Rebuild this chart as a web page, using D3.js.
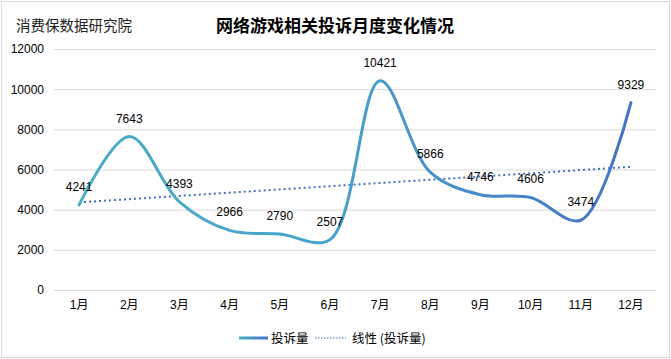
<!DOCTYPE html>
<html>
<head>
<meta charset="utf-8">
<script src="https://cdn.jsdelivr.net/npm/d3@7"></script>
<style>
  body { margin: 0; background: #fff; }
  svg { display: block; }
</style>
</head>
<body>
<div id="chart"></div>
<script>
const months = ['1月','2月','3月','4月','5月','6月','7月','8月','9月','10月','11月','12月'];
const complaints = [4241, 7643, 4393, 2966, 2790, 2507, 10421, 5866, 4746, 4606, 3474, 9329];
const yTicks = [0, 2000, 4000, 6000, 8000, 10000, 12000];

const width = 671, height = 359;
const margin = {top: 49, right: 15, bottom: 69, left: 54};

const svg = d3.select('#chart').append('svg')
  .attr('width', width)
  .attr('height', height);

// chart border
svg.append('rect')
  .attr('x', 1.5).attr('y', 1.5)
  .attr('width', width - 3).attr('height', height - 3)
  .attr('fill', '#fff')
  .attr('stroke', '#d9d9d9');

const x = d3.scaleBand()
  .domain(months)
  .range([margin.left, width - margin.right]);

const y = d3.scaleLinear()
  .domain([0, 12000])
  .range([height - margin.bottom, margin.top]);

const cx = d => x(d) + x.bandwidth() / 2;

// grid + y axis
const yAxis = svg.append('g')
  .attr('transform', 'translate(' + margin.left + ',0)')
  .call(d3.axisLeft(y).tickValues(yTicks).tickFormat(d3.format('d'))
    .tickSize(-(width - margin.left - margin.right)).tickPadding(10));
yAxis.select('.domain').remove();
yAxis.selectAll('line').attr('stroke', '#d9d9d9');
yAxis.selectAll('text')
  .attr('font-family', 'Liberation Sans, Arial, sans-serif')
  .attr('font-size', 12)
  .attr('fill', '#000');

// x axis labels
const xAxis = svg.append('g')
  .attr('transform', 'translate(0,' + (height - margin.bottom) + ')')
  .call(d3.axisBottom(x).tickSize(0).tickPadding(10));
xAxis.select('.domain').remove();
xAxis.selectAll('text')
  .attr('font-family', 'Liberation Sans, Noto Sans CJK SC, sans-serif')
  .attr('font-size', 12)
  .attr('fill', '#000');

// gradient for series line
const defs = svg.append('defs');
const grad = defs.append('linearGradient')
  .attr('id', 'lineGrad')
  .attr('gradientUnits', 'userSpaceOnUse')
  .attr('x1', cx(months[0])).attr('x2', cx(months[months.length - 1]))
  .attr('y1', 0).attr('y2', 0);
grad.append('stop').attr('offset', '0%').attr('stop-color', '#4bacc6');
grad.append('stop').attr('offset', '45%').attr('stop-color', '#49a3cb');
grad.append('stop').attr('offset', '100%').attr('stop-color', '#4472c4');

const points = months.map((m, i) => ({m: m, v: complaints[i]}));

// linear trend line (least squares)
const n = complaints.length;
const xs = d3.range(1, n + 1);
const mx = d3.mean(xs), my = d3.mean(complaints);
const slope = d3.sum(xs, (xi, i) => (xi - mx) * (complaints[i] - my)) / d3.sum(xs, xi => (xi - mx) * (xi - mx));
const intercept = my - slope * mx;
const trend = [
  {m: months[0], v: intercept + slope * 1},
  {m: months[n - 1], v: intercept + slope * n}
];

svg.append('path')
  .datum(trend)
  .attr('fill', 'none')
  .attr('stroke', '#4472c4')
  .attr('stroke-width', 2)
  .attr('stroke-dasharray', '2,3')
  .attr('d', d3.line().x(d => cx(d.m)).y(d => y(d.v)));

svg.append('path')
  .datum(points)
  .attr('fill', 'none')
  .attr('stroke', 'url(#lineGrad)')
  .attr('stroke-width', 3)
  .attr('stroke-linecap', 'round')
  .attr('d', d3.line().curve(d3.curveCatmullRom.alpha(0.5)).x(d => cx(d.m)).y(d => y(d.v)));

// data labels
svg.append('g').selectAll('text')
  .data(points)
  .join('text')
  .attr('x', d => cx(d.m))
  .attr('y', d => y(d.v) - 14)
  .attr('text-anchor', 'middle')
  .attr('font-family', 'Liberation Sans, Arial, sans-serif')
  .attr('font-size', 12)
  .attr('fill', '#000')
  .text(d => d.v);

// titles
svg.append('text')
  .attr('x', 335).attr('y', 32)
  .attr('text-anchor', 'middle')
  .attr('font-family', 'Noto Sans CJK SC, sans-serif')
  .attr('font-weight', 'bold')
  .attr('font-size', 17)
  .attr('fill', '#000')
  .text('网络游戏相关投诉月度变化情况');

svg.append('text')
  .attr('x', 16).attr('y', 31)
  .attr('font-family', 'Noto Sans CJK SC, sans-serif')
  .attr('font-size', 14.5)
  .attr('fill', '#222')
  .text('消费保数据研究院');

// legend
const grad2 = defs.append('linearGradient')
  .attr('id', 'lineGrad2')
  .attr('gradientUnits', 'userSpaceOnUse')
  .attr('x1', 239).attr('x2', 268).attr('y1', 0).attr('y2', 0);
grad2.append('stop').attr('offset', '0%').attr('stop-color', '#4bacc6');
grad2.append('stop').attr('offset', '100%').attr('stop-color', '#4472c4');

const lg = svg.append('g').attr('transform', 'translate(0,338)');
lg.append('line')
  .attr('x1', 239).attr('x2', 268).attr('y1', 0).attr('y2', 0)
  .attr('stroke', 'url(#lineGrad2)')
  .attr('stroke-width', 3);
lg.append('text')
  .attr('x', 271).attr('y', 4.5)
  .attr('font-family', 'Noto Sans CJK SC, sans-serif')
  .attr('font-size', 12.5)
  .attr('fill', '#000')
  .text('投诉量');
lg.append('line')
  .attr('x1', 315).attr('x2', 346).attr('y1', 0).attr('y2', 0)
  .attr('stroke', '#4472c4')
  .attr('stroke-width', 1.2)
  .attr('stroke-dasharray', '1.5,1.5');
lg.append('text')
  .attr('x', 352).attr('y', 4.5)
  .attr('font-family', 'Noto Sans CJK SC, sans-serif')
  .attr('font-size', 12.5)
  .attr('fill', '#000')
  .text('线性 (投诉量)');
</script>
</body>
</html>
